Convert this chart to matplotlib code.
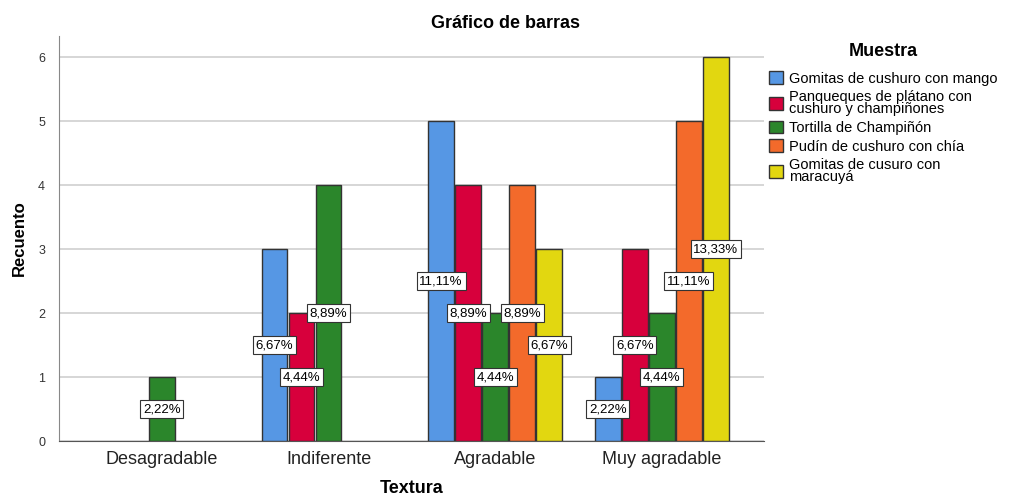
import numpy as np
import matplotlib.pyplot as plt

plt.rcParams['font.family'] = ['Liberation Sans', 'DejaVu Sans']

categorias = ["Desagradable", "Indiferente", "Agradable", "Muy agradable"]
muestras = ["Gomitas de cushuro con mango",
            "Panqueques de plátano con\ncushuro y champiñones",
            "Tortilla de Champiñón",
            "Pudín de cushuro con chía",
            "Gomitas de cusuro con\nmaracuyá"]
gomitas_mango = [0, 3, 5, 1]
panqueques = [0, 2, 4, 3]
tortilla = [1, 4, 2, 2]
pudin = [0, 0, 4, 5]
gomitas_maracuya = [0, 0, 3, 6]
total = 45

series = [gomitas_mango, panqueques, tortilla, pudin, gomitas_maracuya]
colores = ["#5697e4", "#d7003c", "#2b862b", "#f36a2b", "#e2d710"]

fig = plt.figure(figsize=(10.11, 4.96), dpi=100)
ax = fig.add_axes([59/1011, 55/496, 705/1011, 405/496])

x = np.arange(len(categorias))
paso = 0.162
ancho = 0.155
handles = []
for i, (vals, col) in enumerate(zip(series, colores)):
    pos = x + (i - 2) * paso
    for p, v in zip(pos, vals):
        if v == 0:
            continue
        ax.bar(p, v, width=ancho, color=col, edgecolor="#333333", linewidth=1, zorder=3)
        txt = f"{v / total * 100:.2f}%".replace(".", ",")
        ax.text(p, v / 2, txt, ha="center", va="center", fontsize=9.5, zorder=5,
                bbox=dict(boxstyle="square,pad=0.2", fc="white", ec="#333333", lw=0.8))
    handles.append(plt.Rectangle((0, 0), 1, 1, fc=col, ec="#333333", lw=1))

ax.set_xlim(-0.617, 3.613)
ax.set_ylim(0, 6.33)
ax.set_yticks(range(7))
ax.set_xticks(x)
ax.set_xticklabels(categorias, fontsize=13, color="#222222")
ax.tick_params(axis="y", length=0, labelsize=9, labelcolor="#333333", pad=10)
ax.tick_params(axis="x", length=0, pad=7)
ax.yaxis.grid(True, color="#d0d0d0", lw=1.2, zorder=0)
for s in ["top", "right"]:
    ax.spines[s].set_visible(False)
ax.spines["left"].set_color("#888888")
ax.spines["bottom"].set_color("#555555")

ax.set_ylabel("Recuento", fontsize=12, fontweight="bold", labelpad=8)
ax.set_xlabel("Textura", fontsize=13, fontweight="bold", labelpad=9)
fig.suptitle("Gráfico de barras", fontsize=13, fontweight="bold", x=0.5, y=0.97)

leg = fig.legend(handles, muestras, loc="upper left", bbox_to_anchor=(756/1011, 1 - 30/496),
                 title="Muestra", frameon=False, fontsize=10.5, handlelength=0.95,
                 handleheight=0.95, handletextpad=0.4, labelspacing=0.3)
leg.get_title().set_fontweight("bold")
leg.get_title().set_fontsize(13)
leg._legend_box.sep = 8
for t in leg.get_texts():
    t.set_linespacing(0.85)

fig.savefig("out.png", dpi=100)
